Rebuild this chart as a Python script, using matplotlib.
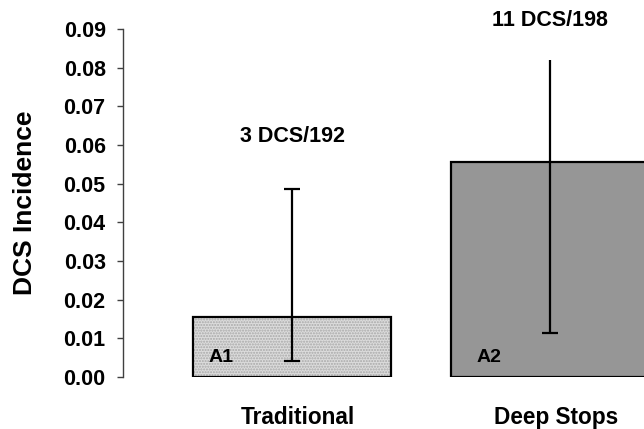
"""DCS incidence: traditional vs deep stops bar chart."""

import matplotlib

matplotlib.use("Agg")
import matplotlib.pyplot as plt
import matplotlib.transforms as mtransforms
import numpy as np

plt.rcParams["font.family"] = ["Liberation Sans", "DejaVu Sans"]
plt.rcParams["font.weight"] = "bold"

# data
groups = ["Traditional", "Deep Stops"]
tags = ["A1", "A2"]
cases = [3, 11]
divers = [192, 198]
ci_low = [0.0041, 0.0114]
ci_high = [0.0486, 0.0821]
top_cap = [True, False]  # the deep-stops upper cap is not drawn in the source
yticks = [0.00, 0.01, 0.02, 0.03, 0.04, 0.05, 0.06, 0.07, 0.08, 0.09]

incidence = np.array(cases) / np.array(divers)
counts = [f"{c} DCS/{n}" for c, n in zip(cases, divers)]

# layout
x = np.arange(len(groups))
width = 0.767
cap_half = 0.031
count_y = [0.0622, 0.0922]
tag_pad = [0.058, 0.10]
faces = ["#dcdcdc", "#969696"]

fig = plt.figure(figsize=(6.44, 4.29), dpi=100)
ax = fig.add_axes([0.191, 0.1212, 0.809, 0.8112])

# bar fills (left one has a fine dot texture), then the outlines on top
for i in range(len(groups)):
    ax.bar(x[i], incidence[i], width, color=faces[i], lw=0,
           hatch="......" if i == 0 else None, edgecolor="#a8a8a8", zorder=1)
ax.bar(x, incidence, width, facecolor="none", edgecolor="black", lw=1.6, zorder=2)

ax.vlines(x, ci_low, ci_high, color="black", lw=1.6, zorder=3)
ax.hlines(ci_low, x - cap_half, x + cap_half, color="black", lw=1.6, zorder=3)
for i in range(len(groups)):
    if top_cap[i]:
        ax.hlines(ci_high[i], x[i] - cap_half, x[i] + cap_half,
                  color="black", lw=1.6, zorder=3)

for i in range(len(groups)):
    ax.text(x[i] - width / 2 + tag_pad[i], 0.0028, tags[i], fontsize=14,
            fontweight="bold", ha="left", va="bottom", zorder=4)
    ax.text(x[i], count_y[i], counts[i], fontsize=15.5, fontweight="bold",
            ha="center", va="center", clip_on=False)

ax.set_xlim(-0.655, 1.364)
ax.set_ylim(0, 0.09)
ax.set_yticks(yticks)
ax.set_yticklabels([f"{v:.2f}" for v in yticks], fontsize=15.5, fontweight="bold")
ax.set_xticks(x)
ax.set_xticklabels(groups, fontsize=16.3, fontweight="bold")
ax.tick_params(axis="x", length=0, pad=21)
ax.tick_params(axis="y", length=4.5, width=1, color="#404040", pad=8)
shift = mtransforms.ScaledTranslation(6 / 100, 0, fig.dpi_scale_trans)
for lab in ax.get_xticklabels():
    lab.set_transform(lab.get_transform() + shift)

ax.set_ylabel("DCS Incidence", fontsize=19, fontweight="bold")
ax.yaxis.set_label_coords(-0.165, 0.5)

for side in ("top", "right", "bottom"):
    ax.spines[side].set_visible(False)
ax.spines["left"].set_color("#404040")
ax.spines["left"].set_linewidth(1)

fig.savefig("out.png", dpi=100)
